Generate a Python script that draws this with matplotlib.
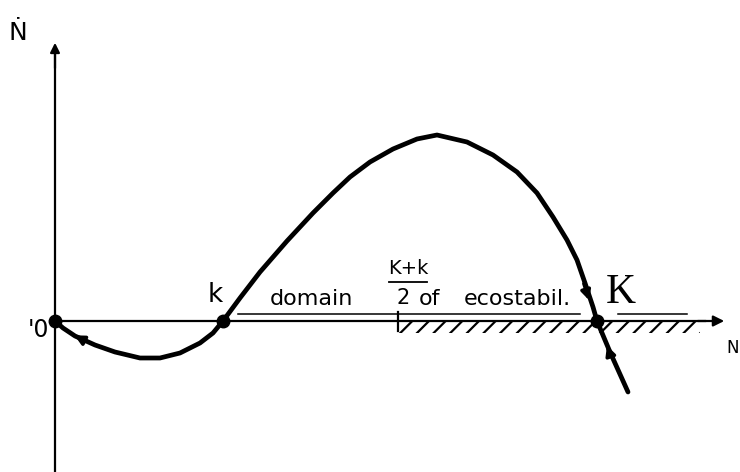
import matplotlib
matplotlib.use("Agg")
import matplotlib.pyplot as plt

plt.rcParams["hatch.linewidth"] = 1.6

# population growth rate dN/dt against N (sketch units)
N_CURVE = [0, 8, 20, 40, 60, 85, 105, 125, 145, 158, 168, 185, 205, 232,
           258, 278, 295, 315, 338, 362, 382, 412, 438, 462, 482, 498, 512,
           522, 530, 538, 542, 555, 573]
NDOT_CURVE = [0, -7, -15, -24, -31, -37, -37, -32, -22, -12, 0, 23, 49, 80,
              108, 128, 144, 159, 172, 182, 186, 179, 166, 149, 128, 104, 81,
              61, 38, 14, 0, -31, -71]

# equilibria: 0, k (unstable), K (stable)
EQ_N = [0, 168, 542]
EQ_LABELS = ["'0", "k", "K"]
MID_N = (EQ_N[1] + EQ_N[2]) / 2  # (K+k)/2

# flow arrows along the curve: (tail, head)
FLOW_ARROWS = [((32, -21), (17, -13)),
               ((528, 40), (535, 18)),
               ((556, -36), (551, -22))]

fig = plt.figure(figsize=(7.4, 4.72), dpi=100)
ax = fig.add_axes([0, 0, 1, 1])
ax.set_xlim(-55, 685)
ax.set_ylim(-151, 321)
ax.axis("off")

# axes with arrowheads
ax.plot([0, 0], [-151, 270], color="black", lw=1.6)
ax.annotate("", xy=(0, 281), xytext=(0, 250),
            arrowprops=dict(arrowstyle="-|>", color="black", lw=1.6,
                            mutation_scale=14))
ax.plot([0, 650], [0, 0], color="black", lw=1.6)
ax.annotate("", xy=(672, 0), xytext=(640, 0),
            arrowprops=dict(arrowstyle="-|>", color="black", lw=1.6,
                            mutation_scale=16))

# domain of ecostability: double line above, hatching below
ax.plot([EQ_N[1] + 15, 525], [7, 7], color="black", lw=1.1)
ax.plot([563, 632], [7, 7], color="black", lw=1.1)
ax.fill_between([MID_N - 12, 645], -12, -1, facecolor="none",
                edgecolor="black", hatch="//", lw=0)
ax.plot([MID_N - 12, MID_N - 12], [9, -10], color="black", lw=1.6)

# the curve itself
ax.plot(N_CURVE, NDOT_CURVE, color="black", lw=3.4,
        solid_capstyle="round", solid_joinstyle="round")
ax.plot(EQ_N, [0, 0, 0], "o", color="black", ms=9)
for tail, head in FLOW_ARROWS:
    ax.annotate("", xy=head, xytext=tail,
                arrowprops=dict(arrowstyle="-|>", color="black", lw=2.5,
                                mutation_scale=14))

# labels
ax.text(-6, -9, EQ_LABELS[0], fontsize=17, ha="right", va="center")
ax.text(EQ_N[1] - 8, 26, EQ_LABELS[1], fontsize=19, ha="center", va="center")
ax.text(EQ_N[2] + 24, 28, EQ_LABELS[2], fontsize=30, ha="center", va="center",
        family="Liberation Serif")
ax.text(-37, 288, "Ṅ", fontsize=18, ha="center", va="center")
ax.text(684, -27, "N", fontsize=12, ha="right", va="center")

ax.text(256, 22, "domain", fontsize=16, ha="center", va="center")
ax.text(MID_N - 2, 53, "K+k", fontsize=14, ha="center", va="center")
ax.plot([MID_N - 21, MID_N + 17], [39, 39], color="black", lw=1.3)
ax.text(MID_N - 7, 23, "2", fontsize=15, ha="center", va="center")
ax.text(374, 22, "of", fontsize=16, ha="center", va="center")
ax.text(462, 22, "ecostabil.", fontsize=16, ha="center", va="center")

fig.savefig("out.png", dpi=100)
